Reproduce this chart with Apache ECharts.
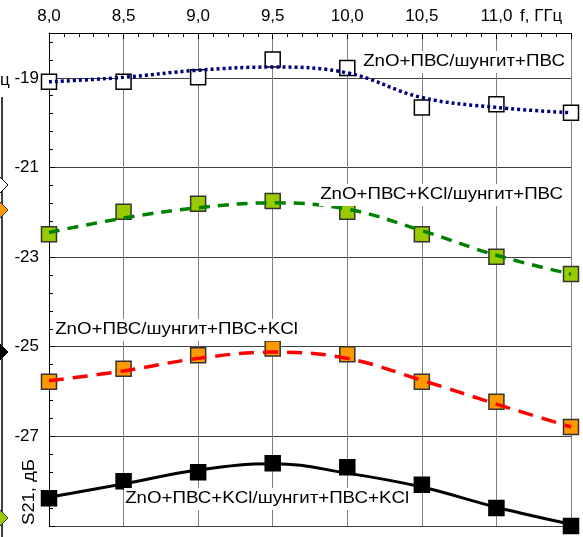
<!DOCTYPE html>
<html>
<head>
<meta charset="utf-8">
<script src="https://cdn.jsdelivr.net/npm/echarts@6/dist/echarts.min.js"></script>
<style>
  html, body { margin: 0; padding: 0; background: #fff; }
  #main { width: 583px; height: 537px; }
</style>
</head>
<body>
<div id="main"></div>
<script>
// частота, ГГц
const freq = [8.0, 8.5, 9.0, 9.5, 10.0, 10.5, 11.0, 11.5];

// измеренные точки (маркеры)
const pvsPoints = [-19.09, -19.09, -18.99, -18.59, -18.78, -19.66, -19.59, -19.78];
const pvsKclPoints = [-22.49, -21.99, -21.81, -21.75, -21.99, -22.49, -22.99, -23.38];
const pvsShKclPoints = [-25.78, -25.49, -25.19, -25.04, -25.17, -25.78, -26.23, -26.79];
const kclKclPoints = [-28.38, -28.0, -27.8, -27.6, -27.69, -28.08, -28.6, -29.0];

// линии тренда
const pvsTrend = [-19.09, -18.99, -18.83, -18.76, -18.89, -19.44, -19.66, -19.78];
const pvsKclTrend = [-22.45, -22.13, -21.9, -21.79, -21.93, -22.41, -22.96, -23.38];
const pvsShKclTrend = [-25.76, -25.54, -25.26, -25.12, -25.26, -25.75, -26.28, -26.79];
const kclKclTrend = [-28.36, -28.06, -27.75, -27.61, -27.82, -28.13, -28.58, -28.96];

const yTicks = [-19, -21, -23, -25, -27];

const FONT = '"Liberation Sans", Arial, sans-serif';

function pairs(xs, ys) {
  return xs.map(function (x, i) { return [x, ys[i]]; });
}

function trendSeries(data, color, type, width) {
  return {
    type: 'line',
    data: pairs(freq, data),
    smooth: 0.4,
    showSymbol: false,
    symbol: 'none',
    z: 4,
    silent: true,
    lineStyle: { color: color, width: width, type: type, cap: 'butt' }
  };
}

function pointSeries(data, fill, border) {
  return {
    type: 'scatter',
    data: pairs(freq, data),
    symbol: 'rect',
    symbolSize: 15,
    z: 3,
    clip: false,
    itemStyle: { color: fill, borderColor: border, borderWidth: 1.5, opacity: 1 }
  };
}

function label(text, x, y) {
  return {
    type: 'text',
    x: x,
    y: y,
    scaleX: 1.17,
    z: 10,
    style: {
      text: text,
      font: '16px ' + FONT,
      fill: '#000',
      verticalAlign: 'middle',
      backgroundColor: '#fff',
      padding: [3, 1, 3, 1]
    }
  };
}

function diamond(y, fill, stroke) {
  return {
    type: 'polygon',
    shape: { points: [[-8, y], [0, y - 8], [8, y], [0, y + 8]] },
    style: { fill: fill, stroke: stroke, lineWidth: 1 },
    z: 10
  };
}

const chart = echarts.init(document.getElementById('main'));

chart.setOption({
  animation: false,
  backgroundColor: '#fff',
  grid: { left: 49, right: 12, top: 33, bottom: 11 },
  xAxis: {
    type: 'value',
    position: 'top',
    min: 8,
    max: 11.5,
    interval: 0.5,
    axisLine: { show: true, onZero: false, lineStyle: { color: '#000', width: 1 } },
    axisTick: { show: true, inside: true, length: 6, lineStyle: { color: '#000' } },
    minorTick: { show: true, splitNumber: 5, length: 4, lineStyle: { color: '#000' } },
    splitLine: { show: true, lineStyle: { color: '#808080', width: 1 } },
    axisLabel: {
      margin: 8,
      fontSize: 17,
      fontFamily: FONT,
      color: '#000',
      formatter: function (v) {
        if (v >= 11.5) return '';
        return v.toFixed(1).replace('.', ',');
      }
    }
  },
  yAxis: {
    type: 'value',
    min: -29,
    max: -18,
    interval: 2,
    axisLine: { show: true, onZero: false, lineStyle: { color: '#000', width: 1 } },
    axisTick: { show: true, inside: true, length: 6, lineStyle: { color: '#000' } },
    minorTick: { show: true, splitNumber: 5, length: 4, lineStyle: { color: '#000' } },
    splitLine: { show: true, lineStyle: { color: '#404040', width: 1 } },
    axisLabel: {
      margin: 10,
      fontSize: 17,
      fontFamily: FONT,
      color: '#000',
      formatter: function (v) {
        return yTicks.indexOf(v) >= 0 ? String(v) : '';
      }
    }
  },
  series: [
    pointSeries(pvsPoints, '#fff', '#000'),
    pointSeries(pvsKclPoints, '#99cc00', '#333'),
    pointSeries(pvsShKclPoints, '#ff9900', '#333'),
    pointSeries(kclKclPoints, '#000', '#000'),
    trendSeries(pvsTrend, '#000080', [3, 3], 3.5),
    trendSeries(pvsKclTrend, '#008000', [11, 8], 3.5),
    trendSeries(pvsShKclTrend, '#ff0000', [15, 9], 3.5),
    trendSeries(kclKclTrend, '#000', 'solid', 3)
  ],
  graphic: [
    label('ZnO+ПВС/шунгит+ПВС', 362, 62),
    label('ZnO+ПВС+KCl/шунгит+ПВС', 319, 195),
    label('ZnO+ПВС/шунгит+ПВС+KCl', 54, 330),
    label('ZnO+ПВС+KCl/шунгит+ПВС+KCl', 124, 499),
    {
      type: 'text', x: 520, y: 16, z: 10,
      style: { text: 'f, ГГц', font: '17px ' + FONT, fill: '#000', verticalAlign: 'middle' }
    },
    {
      type: 'text', x: 30, y: 492, rotation: Math.PI / 2, scaleX: 1.15, z: 10,
      style: { text: 'S21, дБ', font: '16px ' + FONT, fill: '#000', align: 'center', verticalAlign: 'middle' }
    },
    {
      type: 'text', x: 0, y: 80, z: 10,
      style: { text: 'ц', font: '17px ' + FONT, fill: '#000', verticalAlign: 'middle' }
    },
    {
      type: 'line', z: 9,
      shape: { x1: 2, y1: 97, x2: 2, y2: 537 },
      style: { stroke: '#000', lineWidth: 1.5 }
    },
    diamond(185, '#fff', '#000'),
    diamond(210, '#ff9900', '#333'),
    diamond(352, '#000', '#000'),
    diamond(518, '#99cc00', '#333')
  ]
});
</script>
</body>
</html>
